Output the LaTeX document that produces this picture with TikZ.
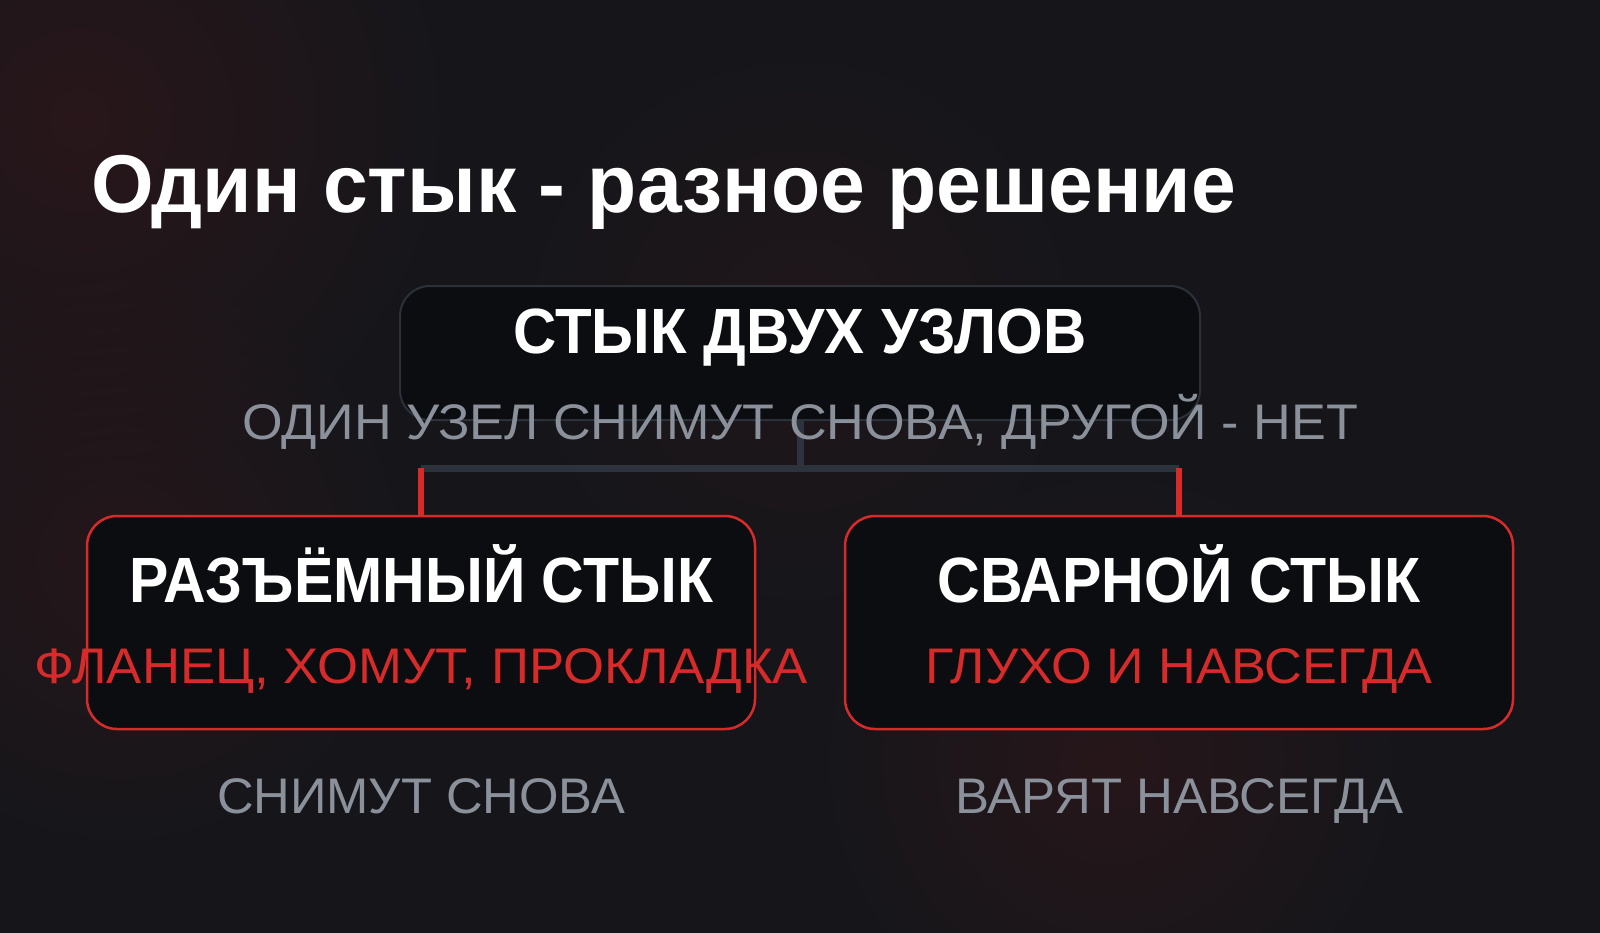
\documentclass[tikz,border=0pt]{standalone}
\usepackage{fontspec}
\usepackage{graphicx}
\setmainfont{Liberation Sans}
\usetikzlibrary{fadings}
\definecolor{bgcol}{HTML}{16161A}
\definecolor{glowred}{HTML}{6A181C}
\definecolor{boxfill}{HTML}{0B0D11}
\definecolor{topborder}{HTML}{2B3039}
\definecolor{conngrey}{HTML}{2C333D}
\definecolor{accred}{HTML}{D72B2B}
\definecolor{greytext}{HTML}{8B919B}
\newsavebox\fitbox
\newcommand\fitw[2]{\sbox\fitbox{#2}\scalebox{\fpeval{#1/(\wd\fitbox)}}[1]{\usebox\fitbox}}
\tikzfading[name=glowfade, inner color=transparent!0, outer color=transparent!100]
\tikzset{
  boxbase/.style={rectangle, rounded corners=30pt, fill=boxfill, inner sep=0pt},
  topbox/.style={boxbase, draw=topborder, line width=2pt, minimum width=800pt, minimum height=134pt},
  subbox/.style={boxbase, draw=accred, line width=2.5pt, minimum width=668pt, minimum height=213pt},
  bigtitle/.style={anchor=base west, inner sep=0pt, text=white, font=\fontsize{82}{90}\selectfont\bfseries},
  boxtitle/.style={anchor=base, inner sep=0pt, text=white, font=\fontsize{64}{70}\selectfont\bfseries},
  greynote/.style={anchor=base, inner sep=0pt, text=greytext, font=\fontsize{50}{56}\selectfont},
  rednote/.style={anchor=base, inner sep=0pt, text=accred, font=\fontsize{50}{56}\selectfont},
  trunk/.style={draw=conngrey, line width=7pt},
  branch/.style={draw=accred, line width=6pt},
}
\begin{document}
\begin{tikzpicture}[x=1pt, y=-1pt]
  % background
  \fill[bgcol] (0,0) rectangle (1600,933);
  \useasboundingbox (0,0) rectangle (1600,933);
  \fill[glowred, path fading=glowfade, fill opacity=0.22] (80,120) circle (380pt);
  \fill[glowred, path fading=glowfade, fill opacity=0.18] (120,560) circle (300pt);
  \fill[glowred, path fading=glowfade, fill opacity=0.2] (1110,760) circle (300pt);
  \fill[glowred, path fading=glowfade, fill opacity=0.12] (800,330) circle (300pt);

  % title
  \node[bigtitle] (title) at (91,213) {\fitw{1145pt}{Один стык - разное решение}};

  % boxes
  \node[topbox] (top) at (800,353) {};
  \node[subbox] (left) at (421,622.5) {};
  \node[subbox] (right) at (1179,622.5) {};

  % connectors
  \coordinate (junc) at (800,468);
  \coordinate (jl) at (left.north |- junc);
  \coordinate (jr) at (right.north |- junc);
  \draw[trunk] (top.south) -- (junc);
  \draw[trunk] (jl) -- (jr);
  \draw[branch] (jl) -- (left.north);
  \draw[branch] (jr) -- (right.north);

  % texts
  \node[boxtitle] (toptxt) at (800,353) {\fitw{573pt}{СТЫК ДВУХ УЗЛОВ}};
  \node[greynote] (topnote) at (800,439) {\fitw{1116pt}{ОДИН УЗЕЛ СНИМУТ СНОВА, ДРУГОЙ - НЕТ}};

  \node[boxtitle] (lefttxt) at (421,602) {\fitw{584pt}{РАЗЪЁМНЫЙ СТЫК}};
  \node[rednote] (leftred) at (421,683) {\fitw{774pt}{ФЛАНЕЦ, ХОМУТ, ПРОКЛАДКА}};
  \node[greynote] (leftnote) at (421,813) {\fitw{408pt}{СНИМУТ СНОВА}};

  \node[boxtitle] (righttxt) at (1179,602) {\fitw{483pt}{СВАРНОЙ СТЫК}};
  \node[rednote] (rightred) at (1179,683) {\fitw{507pt}{ГЛУХО И НАВСЕГДА}};
  \node[greynote] (rightnote) at (1179,813) {\fitw{448pt}{ВАРЯТ НАВСЕГДА}};
\end{tikzpicture}
\end{document}
